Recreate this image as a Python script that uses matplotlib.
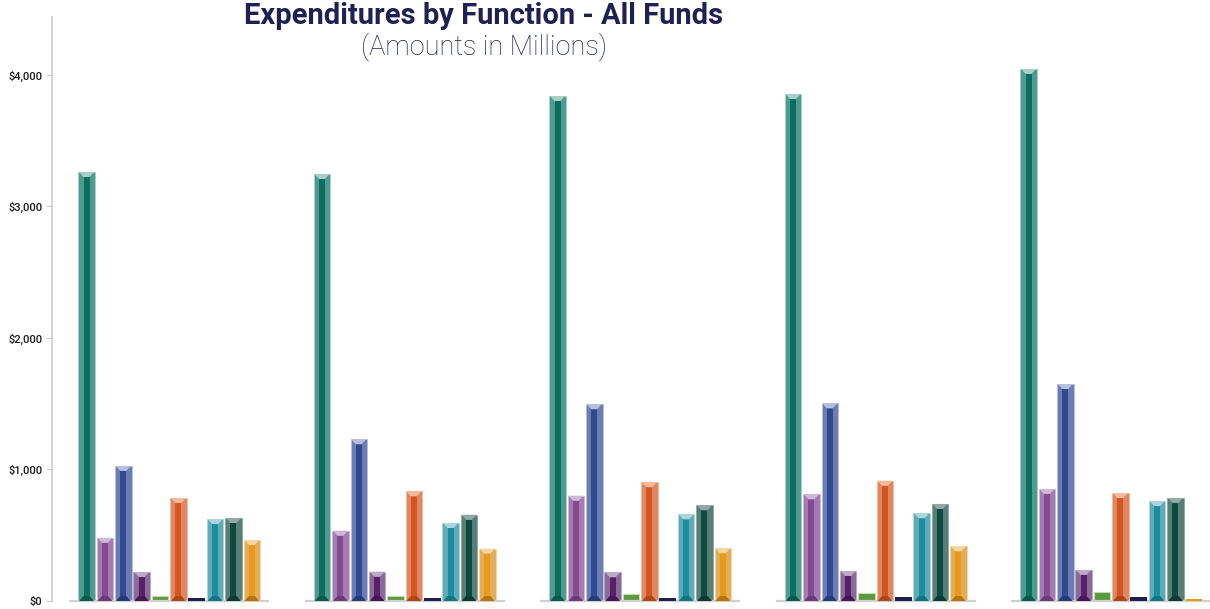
import numpy as np
import matplotlib
matplotlib.use("Agg")
import matplotlib.pyplot as plt

# values per function (one entry per panel), millions of dollars
teal = [3262, 3247, 3840, 3855, 4046]
purple = [481, 535, 801, 811, 852]
blue = [1027, 1230, 1496, 1503, 1650]
dark_purple = [220, 223, 218, 228, 236]
green = [38, 38, 51, 63, 68]
orange = [783, 834, 903, 915, 821]
navy = [22, 22, 22, 28, 28]
cyan = [623, 593, 659, 667, 760]
dark_green = [631, 656, 728, 738, 783]
amber = [464, 398, 401, 416, 14]

series = [teal, purple, blue, dark_purple, green, orange, navy, cyan, dark_green, amber]

# (center, side, top highlight, bottom shade)
palette = [
    ("#0b6e5e", "#4f9b8f", "#a9cfc8", "#0a5a4d"),
    ("#844b92", "#a57cb1", "#cfb7d8", "#6c3a78"),
    ("#2f4a91", "#6b7db3", "#b6c0de", "#253b78"),
    ("#592069", "#8a6a99", "#bca9c7", "#461853"),
    ("#5a9a3e", "#80b36b", "#bedab0", "#497f32"),
    ("#d4561e", "#df8762", "#f5ba9c", "#b04517"),
    ("#1e1f4e", "#1e1f4e", "#1e1f4e", "#1e1f4e"),
    ("#1a8e9e", "#60abb7", "#aad7df", "#147583"),
    ("#0f4a40", "#577e77", "#91aaa5", "#0b3b33"),
    ("#e89a1c", "#e3ae5c", "#f6d5a0", "#b77410"),
]

ticks = [0, 1000, 2000, 3000, 4000]
tick_labels = ["$0", "$1,000", "$2,000", "$3,000", "$4,000"]

W, H = 1210, 609
fig = plt.figure(figsize=(W / 100, H / 100), dpi=100)
plt.rcParams["font.family"] = ["Roboto", "DejaVu Sans"]

ymax = 4441
bottom_px, height_px = 8, 584

# standalone y axis
ay = fig.add_axes([52 / W, bottom_px / H, 0.0005, height_px / H])
ay.set_ylim(0, ymax)
ay.set_xticks([])
for s in ["top", "right", "bottom"]:
    ay.spines[s].set_visible(False)
ay.spines["left"].set_color("#cccccc")
ay.spines["left"].set_linewidth(1.2)
ay.set_yticks(ticks)
ay.set_yticklabels(tick_labels, fontsize=8, fontweight="medium", color="#1a1a1a")
ay.tick_params(axis="y", length=4, color="#cccccc", pad=3)

bw = 0.9
panel_w = 198
for g in range(5):
    x0 = 70 + g * 235.5
    ax = fig.add_axes([x0 / W, bottom_px / H, panel_w / W, height_px / H])
    ax.set_ylim(0, ymax)
    ax.set_xlim(-0.9, 9.88)
    ax.set_xticks([])
    ax.set_yticks([])
    for s in ["top", "right", "left"]:
        ax.spines[s].set_visible(False)
    ax.spines["bottom"].set_color("#d0d0d0")
    ax.spines["bottom"].set_linewidth(1.6)
    for i, vals in enumerate(series):
        h = vals[g]
        center, side, top, shade = palette[i]
        if i == 6 or h < 20:
            ax.bar(i, h, bw, color=center, linewidth=0, zorder=4)
            continue
        if h < 100:
            # small bars: flat body with a light rim
            ax.bar(i, h, bw, color=center, edgecolor=top, linewidth=0.8, zorder=2)
            continue
        d = 38
        ax.bar(i, h, bw, color=side, edgecolor=top, linewidth=0.7, zorder=2)
        ax.bar(i, h - 2 * d, bw * 0.36, bottom=d, color=center, linewidth=0, zorder=3)
        ax.fill([i - bw / 2 + 0.04, i + bw / 2 - 0.04, i + bw * 0.18, i - bw * 0.18],
                [h, h, h - d, h - d], color=top, linewidth=0, zorder=3)
        ax.fill([i - bw / 2 + 0.04, i + bw / 2 - 0.04, i + bw * 0.18, i - bw * 0.18],
                [0, 0, d, d], color=shade, linewidth=0, zorder=3)

fig.text(484 / W, 1 - 16 / H, "Expenditures by Function - All Funds", ha="center", va="center",
         fontsize=21, fontweight="bold", color="#1f2152")
fig.text(484 / W, 1 - 47 / H, "(Amounts in Millions)", ha="center", va="center",
         fontsize=19.5, fontweight="light", color="#1f2152")

fig.savefig("out.png", dpi=100)
